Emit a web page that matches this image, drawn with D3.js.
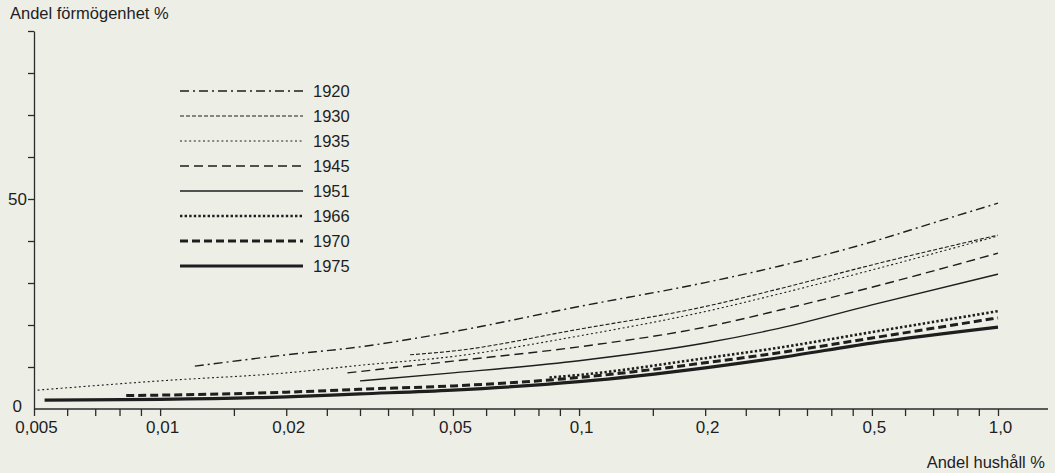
<!DOCTYPE html>
<html lang="sv">
<head>
    <meta charset="UTF-8">
    <title>Andel förmögenhet</title>

<style>

body {
  margin: 0;
  background: #edefe7;
}

svg {
  display: block;
  font-family: "Liberation Sans", Arial, sans-serif;
  color: #1e1e1e;
}

.axis text {
  font-size: 17px;
  fill: #1e1e1e;
}

.axis line,
.axis path {
  stroke: #2a2a2a;
  stroke-width: 1.3;
}

.series {
  fill: none;
  stroke: #1e1e1e;
}

.legend text,
.title {
  font-size: 16.5px;
  fill: #1e1e1e;
}

</style>

</head>
<body>

<svg width="1055" height="473"></svg>

<script src="https://d3js.org/d3.v7.min.js"></script>
<script>

/**
 * data (andel hushåll %, andel förmögenhet %)
 */
const years = ['1920', '1930', '1935', '1945', '1951', '1966', '1970', '1975'];

const hh1920 = [0.0121, 0.02, 0.03, 0.05, 0.1, 0.2, 0.3, 0.5, 0.7, 1.0];
const fm1920 = [10.2, 12.9, 14.8, 18.4, 24.4, 30.1, 34.0, 39.8, 44.3, 49.0];

const hh1930 = [0.0395, 0.05, 0.1, 0.2, 0.3, 0.5, 1.0];
const fm1930 = [12.9, 13.8, 19.0, 24.4, 28.6, 34.3, 41.4];

const hh1935 = [0.0051, 0.01, 0.02, 0.03, 0.05, 0.1, 0.2, 0.3, 0.5, 1.0];
const fm1935 = [4.5, 6.7, 8.6, 10.4, 12.5, 17.4, 23.2, 27.4, 33.1, 41.2];

const hh1945 = [0.028, 0.05, 0.1, 0.2, 0.3, 0.5, 1.0];
const fm1945 = [8.6, 11.4, 14.8, 19.5, 23.5, 29.0, 37.1];

const hh1951 = [0.030, 0.05, 0.1, 0.2, 0.3, 0.5, 1.0];
const fm1951 = [6.7, 8.6, 11.5, 15.7, 19.2, 24.8, 32.1];

const hh1966 = [0.085, 0.1, 0.2, 0.3, 0.5, 1.0];
const fm1966 = [7.5, 8.1, 12.1, 14.6, 18.3, 23.3];

const hh1970 = [0.0083, 0.01, 0.02, 0.03, 0.05, 0.1, 0.2, 0.3, 0.5, 1.0];
const fm1970 = [3.2, 3.3, 4.0, 4.7, 5.5, 7.5, 11.0, 13.4, 16.9, 21.7];

const hh1975 = [0.0053, 0.01, 0.02, 0.03, 0.05, 0.1, 0.2, 0.3, 0.5, 1.0];
const fm1975 = [2.1, 2.3, 2.9, 3.6, 4.5, 6.5, 9.8, 12.2, 15.7, 19.5];

// tick values / labels
const xTicks = [0.005, 0.006, 0.007, 0.008, 0.009, 0.01, 0.015, 0.02, 0.025, 0.03, 0.035,
    0.04, 0.045, 0.05, 0.06, 0.07, 0.08, 0.09, 0.1, 0.15, 0.2, 0.25, 0.3, 0.35, 0.4,
    0.45, 0.5, 0.6, 0.7, 0.8, 0.9, 1.0];
const xLabelValues = [0.005, 0.01, 0.02, 0.05, 0.1, 0.2, 0.5, 1.0];
const xLabels = ['0,005', '0,01', '0,02', '0,05', '0,1', '0,2', '0,5', '1,0'];
const yTicks = [0, 10, 20, 30, 40, 50, 60, 70, 80, 90];
const yLabelValues = [0, 50];

/**
 * line styles per year
 */
const styles = {
    '1920': { dash: '9,4,2,4', width: 1.4 },
    '1930': { dash: '4,2', width: 1.1 },
    '1935': { dash: '2,2.6', width: 1.1 },
    '1945': { dash: '9,5', width: 1.4 },
    '1951': { dash: null, width: 1.4 },
    '1966': { dash: '2.4,2.2', width: 2.6 },
    '1970': { dash: '8,4', width: 3 },
    '1975': { dash: null, width: 3.2 }
};

const hhByYear = { '1920': hh1920, '1930': hh1930, '1935': hh1935, '1945': hh1945,
    '1951': hh1951, '1966': hh1966, '1970': hh1970, '1975': hh1975 };
const fmByYear = { '1920': fm1920, '1930': fm1930, '1935': fm1935, '1945': fm1945,
    '1951': fm1951, '1966': fm1966, '1970': fm1970, '1975': fm1975 };

const series = years.map(function(yr) {
    return {
        year: yr,
        values: hhByYear[yr].map((d, i) => ({ x: d, y: fmByYear[yr][i] }))
    };
});

/**
 * 
 */
var svg = d3.select('svg');

var margin = {
    top: 31,
    right: 57,
    bottom: 64,
    left: 34
};

var width = +svg.attr('width') - margin.left - margin.right;
var height = +svg.attr('height') - margin.top - margin.bottom;

var x = d3.scaleLog().domain([0.005, 1.0]).range([0, width]);
var y = d3.scaleLinear().domain([0, 90]).range([height, 0]);

var group = svg.append('g')
    .attr('transform', 'translate(' + margin.left + ',' + margin.top + ')');

/*------------------------------------*\
  AXES
\*------------------------------------*/
let xAxis = group.append('g')
    .attr('class', 'axis axis--x')
    .attr('transform', `translate(0, ${height})`)
    .call(d3.axisBottom(x)
        .tickValues(xTicks)
        .tickSize(7)
        .tickPadding(5)
        .tickFormat(function(d) {
            let i = xLabelValues.findIndex(v => Math.abs(v - d) < 1e-9);
            return i >= 0 ? xLabels[i] : '';
        }));

// labels in the print sit a touch right of their ticks
xAxis.selectAll('.tick text').attr('dx', 2);

xAxis.select('.domain').remove();
xAxis.append('line')
    .attr('x1', 0)
    .attr('x2', width + 50)
    .attr('y1', 0)
    .attr('y2', 0)
    .attr('stroke', '#2a2a2a')
    .attr('stroke-width', 1.3);

let yAxis = group.append('g')
    .attr('class', 'axis axis--y')
    .call(d3.axisLeft(y)
        .tickValues(yTicks)
        .tickSize(6)
        .tickSizeOuter(0)
        .tickPadding(1)
        .tickFormat(d => yLabelValues.includes(d) ? d : ''));

let zeroTick = yAxis.selectAll('.tick').filter(d => d === 0);
zeroTick.select('line').remove();
zeroTick.select('text').attr('x', -12).attr('y', -3);

/*------------------------------------*\
  LINES
\*------------------------------------*/
let line = d3.line()
    .x(d => x(d.x))
    .y(d => y(d.y))
    .curve(d3.curveMonotoneX);

group.append('g')
    .attr('class', 'lines')
    .selectAll('path')
    .data(series)
    .enter().append('path')
        .attr('class', 'series')
        .attr('d', d => line(d.values))
        .attr('stroke-width', d => styles[d.year].width)
        .attr('stroke-dasharray', d => styles[d.year].dash);

/*------------------------------------*\
  LEGEND
\*------------------------------------*/
let legend = svg.append('g')
    .attr('class', 'legend')
    .selectAll('g')
    .data(years)
    .enter().append('g')
        .attr('transform', (d, i) => `translate(180, ${91 + i * 25})`);

legend.append('line')
    .attr('x1', 0)
    .attr('x2', 123)
    .attr('stroke', '#1e1e1e')
    .attr('stroke-width', d => styles[d].width)
    .attr('stroke-dasharray', d => styles[d].dash);

legend.append('text')
    .attr('x', 133)
    .attr('dy', '0.35em')
    .text(d => d);

/*------------------------------------*\
  TITLES
\*------------------------------------*/
svg.append('text')
    .attr('class', 'title')
    .attr('x', 10)
    .attr('y', 19)
    .text('Andel förmögenhet %');

svg.append('text')
    .attr('class', 'title')
    .attr('x', 1045)
    .attr('y', 468)
    .attr('text-anchor', 'end')
    .text('Andel hushåll %');

</script>

</body>
</html>
